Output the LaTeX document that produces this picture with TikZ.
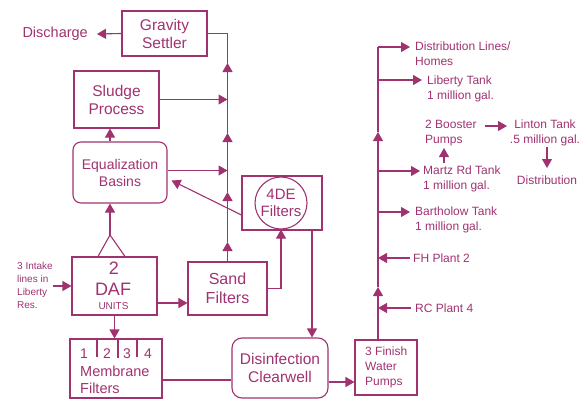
\documentclass[tikz,border=0pt]{standalone}
\usepackage{fontspec}
\setmainfont{Liberation Sans}
\usetikzlibrary{arrows.meta}
\definecolor{ink}{RGB}{160,50,112}
\begin{document}
\begin{tikzpicture}[x=1pt,y=-1pt,
  every node/.style={text=ink, inner sep=0pt},
  box/.style={draw=ink, line width=1.1pt, rectangle, align=center},
  ln/.style={draw=ink, line width=1.1pt},
  arr/.style={ln, -{Triangle[length=9pt,width=10pt]}},
  big/.style={font=\fontsize{15.5}{18}\selectfont},
  sm/.style={font=\fontsize{12}{15}\selectfont, align=left, anchor=west},
]
\useasboundingbox (0,0) rectangle (588,399);

% boxes
\node (gs) [box, big, minimum width=85pt, minimum height=45pt] at (164.5,33.5) {Gravity\\Settler};
\node (sp) [box, big, minimum width=85pt, minimum height=57pt] at (116.5,99.5) {Sludge\\Process};
\node (eq) [box, rounded corners=8pt, font=\fontsize{14}{17}\selectfont, minimum width=94pt, minimum height=61pt] at (120,172.5) {Equalization\\Basins};
\node (fde) [box, minimum width=80pt, minimum height=54pt] at (282,203) {};
\node (fc) [draw=ink, line width=1.1pt, circle, minimum size=52pt, align=center, font=\fontsize{15}{17}\selectfont] at (281,203) {4DE\\Filters};
\node (sf) [box, font=\fontsize{16}{19}\selectfont, minimum width=79pt, minimum height=53pt] at (227.5,288.5) {Sand\\Filters};
\node (daf) [box, minimum width=85pt, minimum height=58pt] at (114.5,286) {};
\node (daf2) [font=\fontsize{18}{18}\selectfont] at (114,268.5) {2};
\node (dafd) [font=\fontsize{18}{18}\selectfont] at (113,289) {DAF};
\node (dafu) [font=\fontsize{10}{10}\selectfont] at (113.5,306) {UNITS};
\node (mem) [box, minimum width=92pt, minimum height=59pt] at (116,368.5) {};
\node (m1) [font=\fontsize{14}{14}\selectfont] at (84,354) {1};
\node (m2) [font=\fontsize{14}{14}\selectfont] at (107,354) {2};
\node (m3) [font=\fontsize{14}{14}\selectfont] at (127,354) {3};
\node (m4) [font=\fontsize{14}{14}\selectfont] at (148,354) {4};
\node (mt) [font=\fontsize{14.5}{17}\selectfont, align=left, anchor=west] at (80,379.5) {Membrane\\Filters};
\node (dis) [box, big, rounded corners=10pt, minimum width=96pt, minimum height=60pt] at (280,368) {Disinfection\\Clearwell};
\node (pump) [box, minimum width=62pt, minimum height=55pt] at (386,367.5) {};
\node (pt) [sm] at (365,367) {3 Finish\\Water\\Pumps};

% free labels
\node (dch) [font=\fontsize{14.5}{17}\selectfont, anchor=east] at (88,34) {Discharge};
\node (intk) [font=\fontsize{10}{13}\selectfont, align=left, anchor=west] at (17,285) {3 Intake\\lines in\\Liberty\\Res.};
\node (t1) [sm] at (415,53.5) {Distribution Lines/\\Homes};
\node (t2) [sm] at (427,89) {Liberty Tank\\1 million gal.};
\node (t3) [sm] at (425,133) {2 Booster\\Pumps};
\node (t4) [font=\fontsize{12}{15}\selectfont, align=center] at (545,133) {Linton Tank\\.5 million gal.};
\node (t5) [font=\fontsize{12}{15}\selectfont] at (547,180) {Distribution};
\node (t6) [sm] at (423,178.5) {Martz Rd Tank\\1 million gal.};
\node (t7) [sm] at (415,220) {Bartholow Tank\\1 million gal.};
\node (t8) [sm] at (413,258) {FH Plant 2};
\node (t9) [sm] at (415,308) {RC Plant 4};

% coordinates
\coordinate (a1) at (227.5,242);
\coordinate (a2) at (227.5,192);
\coordinate (a3) at (227.5,133);
\coordinate (a4) at (227.5,63);
\coordinate (apex) at (110,235);
\coordinate (u1) at (378,287);
\coordinate (u2) at (378,132);
\coordinate (vt) at (378,47);
\coordinate (h1) at (410,47);
\coordinate (v2) at (378,80);
\coordinate (h2) at (422,80);
\coordinate (v3) at (378,171);
\coordinate (h3) at (420,171);
\coordinate (v4) at (378,212);
\coordinate (h4) at (410,212);
\coordinate (f1) at (410,258);
\coordinate (g1) at (378,258);
\coordinate (f2) at (411,308);
\coordinate (g2) at (378,308);
\coordinate (bp1) at (485,126);
\coordinate (bp2) at (507,126);
\coordinate (ld1) at (547,147);
\coordinate (ld2) at (547,168);
\coordinate (mz1) at (444,163);
\coordinate (mz2) at (444,148);

% connectors, left part
\draw[arr] (gs.west) -- ([xshift=9pt]dch.east);
\draw[arr] (sf.north) -- (a1);
\draw[arr] (a1) -- (a2);
\draw[arr] (a2) -- (a3);
\draw[arr] (a3) -- (a4);
\draw[ln] (a4) -- (gs.east -| sf.north) -- (gs.east);
\draw[arr] (sp.east) -- (sp.east -| sf.north);
\draw[arr] ([yshift=2pt]eq.east) -- ([yshift=2pt]eq.east -| sf.north);
\draw[arr] ([yshift=-12pt]fde.west) -- ([xshift=4pt,yshift=-8pt]eq.east);
\draw[ln] ([xshift=-16.5pt]daf.north) -- (apex) -- ([xshift=10.5pt]daf.north);
\draw[arr] (apex) -- (apex |- eq.south);
\draw[arr] (eq.north -| apex) -- (sp.south -| apex);
\draw[arr] (daf.west -| intk.east) -- (daf.west);
\draw[arr] ([yshift=-17pt]daf.east) -- ([yshift=-17pt]daf.east -| sf.west);
\draw[arr] (sf.east) -| (fc.south);
\draw[arr] ([xshift=30pt]fde.south) -- ([xshift=30pt]fde.south |- dis.north);
\draw[arr] (daf.south) -- (daf.south |- mem.north);
\draw[ln] ([yshift=-11.5pt]mem.east) -- ([yshift=-11.5pt]mem.east -| dis.west);
\draw[arr] ([yshift=-14pt]dis.east) -- ([yshift=-14pt]dis.east -| pump.west);
% membrane dividers
\draw[ln] (97,339) -- (97,357);
\draw[ln] (118,339) -- (118,358);
\draw[ln] (137,339) -- (137,357);

% connectors, right part
\draw[arr] ([xshift=-8pt]pump.north) -- (u1);
\draw[arr] (u1) -- (u2);
\draw[ln] (u2) -- (vt);
\draw[arr] (vt) -- (h1);
\draw[arr] (v2) -- (h2);
\draw[arr] (v3) -- (h3);
\draw[arr] (v4) -- (h4);
\draw[arr] (f1) -- (g1);
\draw[arr] (f2) -- (g2);
\draw[arr] (bp1) -- (bp2);
\draw[arr] (ld1) -- (ld2);
\draw[arr] (mz1) -- (mz2);
\end{tikzpicture}
\end{document}
